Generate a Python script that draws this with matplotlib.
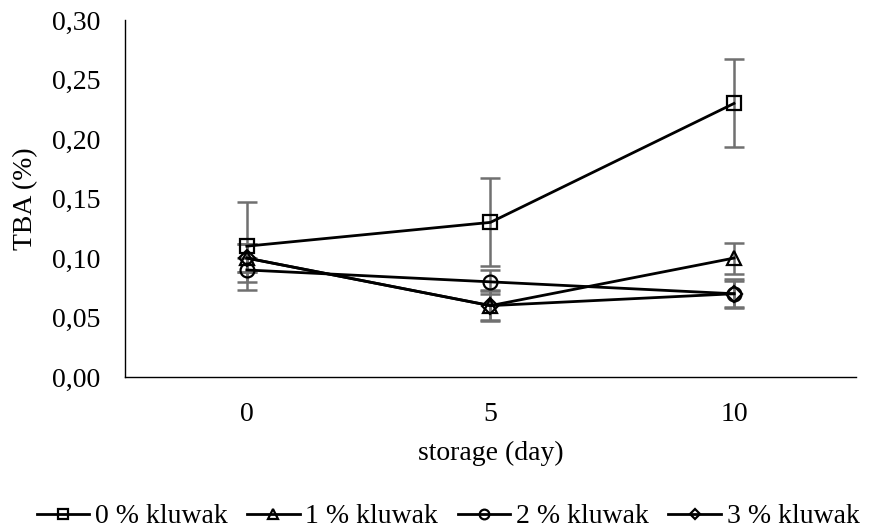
import matplotlib
matplotlib.use("Agg")
import matplotlib.pyplot as plt

plt.rcParams['font.family'] = ['Liberation Serif', 'DejaVu Serif']

days = [0, 5, 10]
tick_labels = ["0", "5", "10"]
series_names = ["0 % kluwak", "1 % kluwak", "2 % kluwak", "3 % kluwak"]
tba_0 = [0.11, 0.13, 0.23]
tba_1 = [0.10, 0.06, 0.10]
tba_2 = [0.09, 0.08, 0.07]
tba_3 = [0.10, 0.06, 0.07]
err_0 = [0.037, 0.037, 0.037]
err_1 = [0.012, 0.013, 0.013]
err_2 = [0.010, 0.010, 0.011]
err_3 = [0.012, 0.012, 0.012]

values = [tba_0, tba_1, tba_2, tba_3]
errors = [err_0, err_1, err_2, err_3]
markers = ["s", "^", "o", "D"]
msizes = [10, 10, 10, 8]

fig = plt.figure(figsize=(8.7, 5.31), dpi=100)
ax = fig.add_axes([0.1437, 0.29, 0.84, 0.672])

# error bars first (grey), lines on top
for v, e in zip(values, errors):
    ax.errorbar(days, v, yerr=e, fmt="none", ecolor="#707070",
                elinewidth=1.8, capsize=7, capthick=1.8, zorder=1)

for v, m, ms, name in zip(values, markers, msizes, series_names):
    ax.plot(days, v, color="black", lw=2, marker=m, markersize=ms,
            markerfacecolor="none", markeredgecolor="black",
            markeredgewidth=1.6, label=name, zorder=3)

ax.set_xlim(-2.5, 12.5)
ax.set_ylim(0, 0.30)
ax.set_xticks(days)
ax.set_xticklabels(tick_labels)
yt = [0, 0.05, 0.10, 0.15, 0.20, 0.25, 0.30]
ax.set_yticks(yt)
ax.set_yticklabels([f"{t:.2f}".replace(".", ",") for t in yt])
ax.tick_params(axis="both", length=0, labelsize=20)
ax.tick_params(axis="y", pad=18)
ax.tick_params(axis="x", pad=18)

ax.spines["top"].set_visible(False)
ax.spines["right"].set_visible(False)
ax.spines["left"].set_linewidth(1)
ax.spines["bottom"].set_linewidth(1)

ax.set_xlabel("storage (day)", fontsize=20, labelpad=10)
ax.set_ylabel("TBA (%)", fontsize=20, labelpad=10)

fig.legend(loc="center", bbox_to_anchor=(0.515, 0.027), ncol=4, frameon=False,
           fontsize=20, markerscale=0.7, handlelength=1.9,
           handletextpad=0.2, columnspacing=0.7)

plt.savefig("out.png", dpi=100)
plt.close()
